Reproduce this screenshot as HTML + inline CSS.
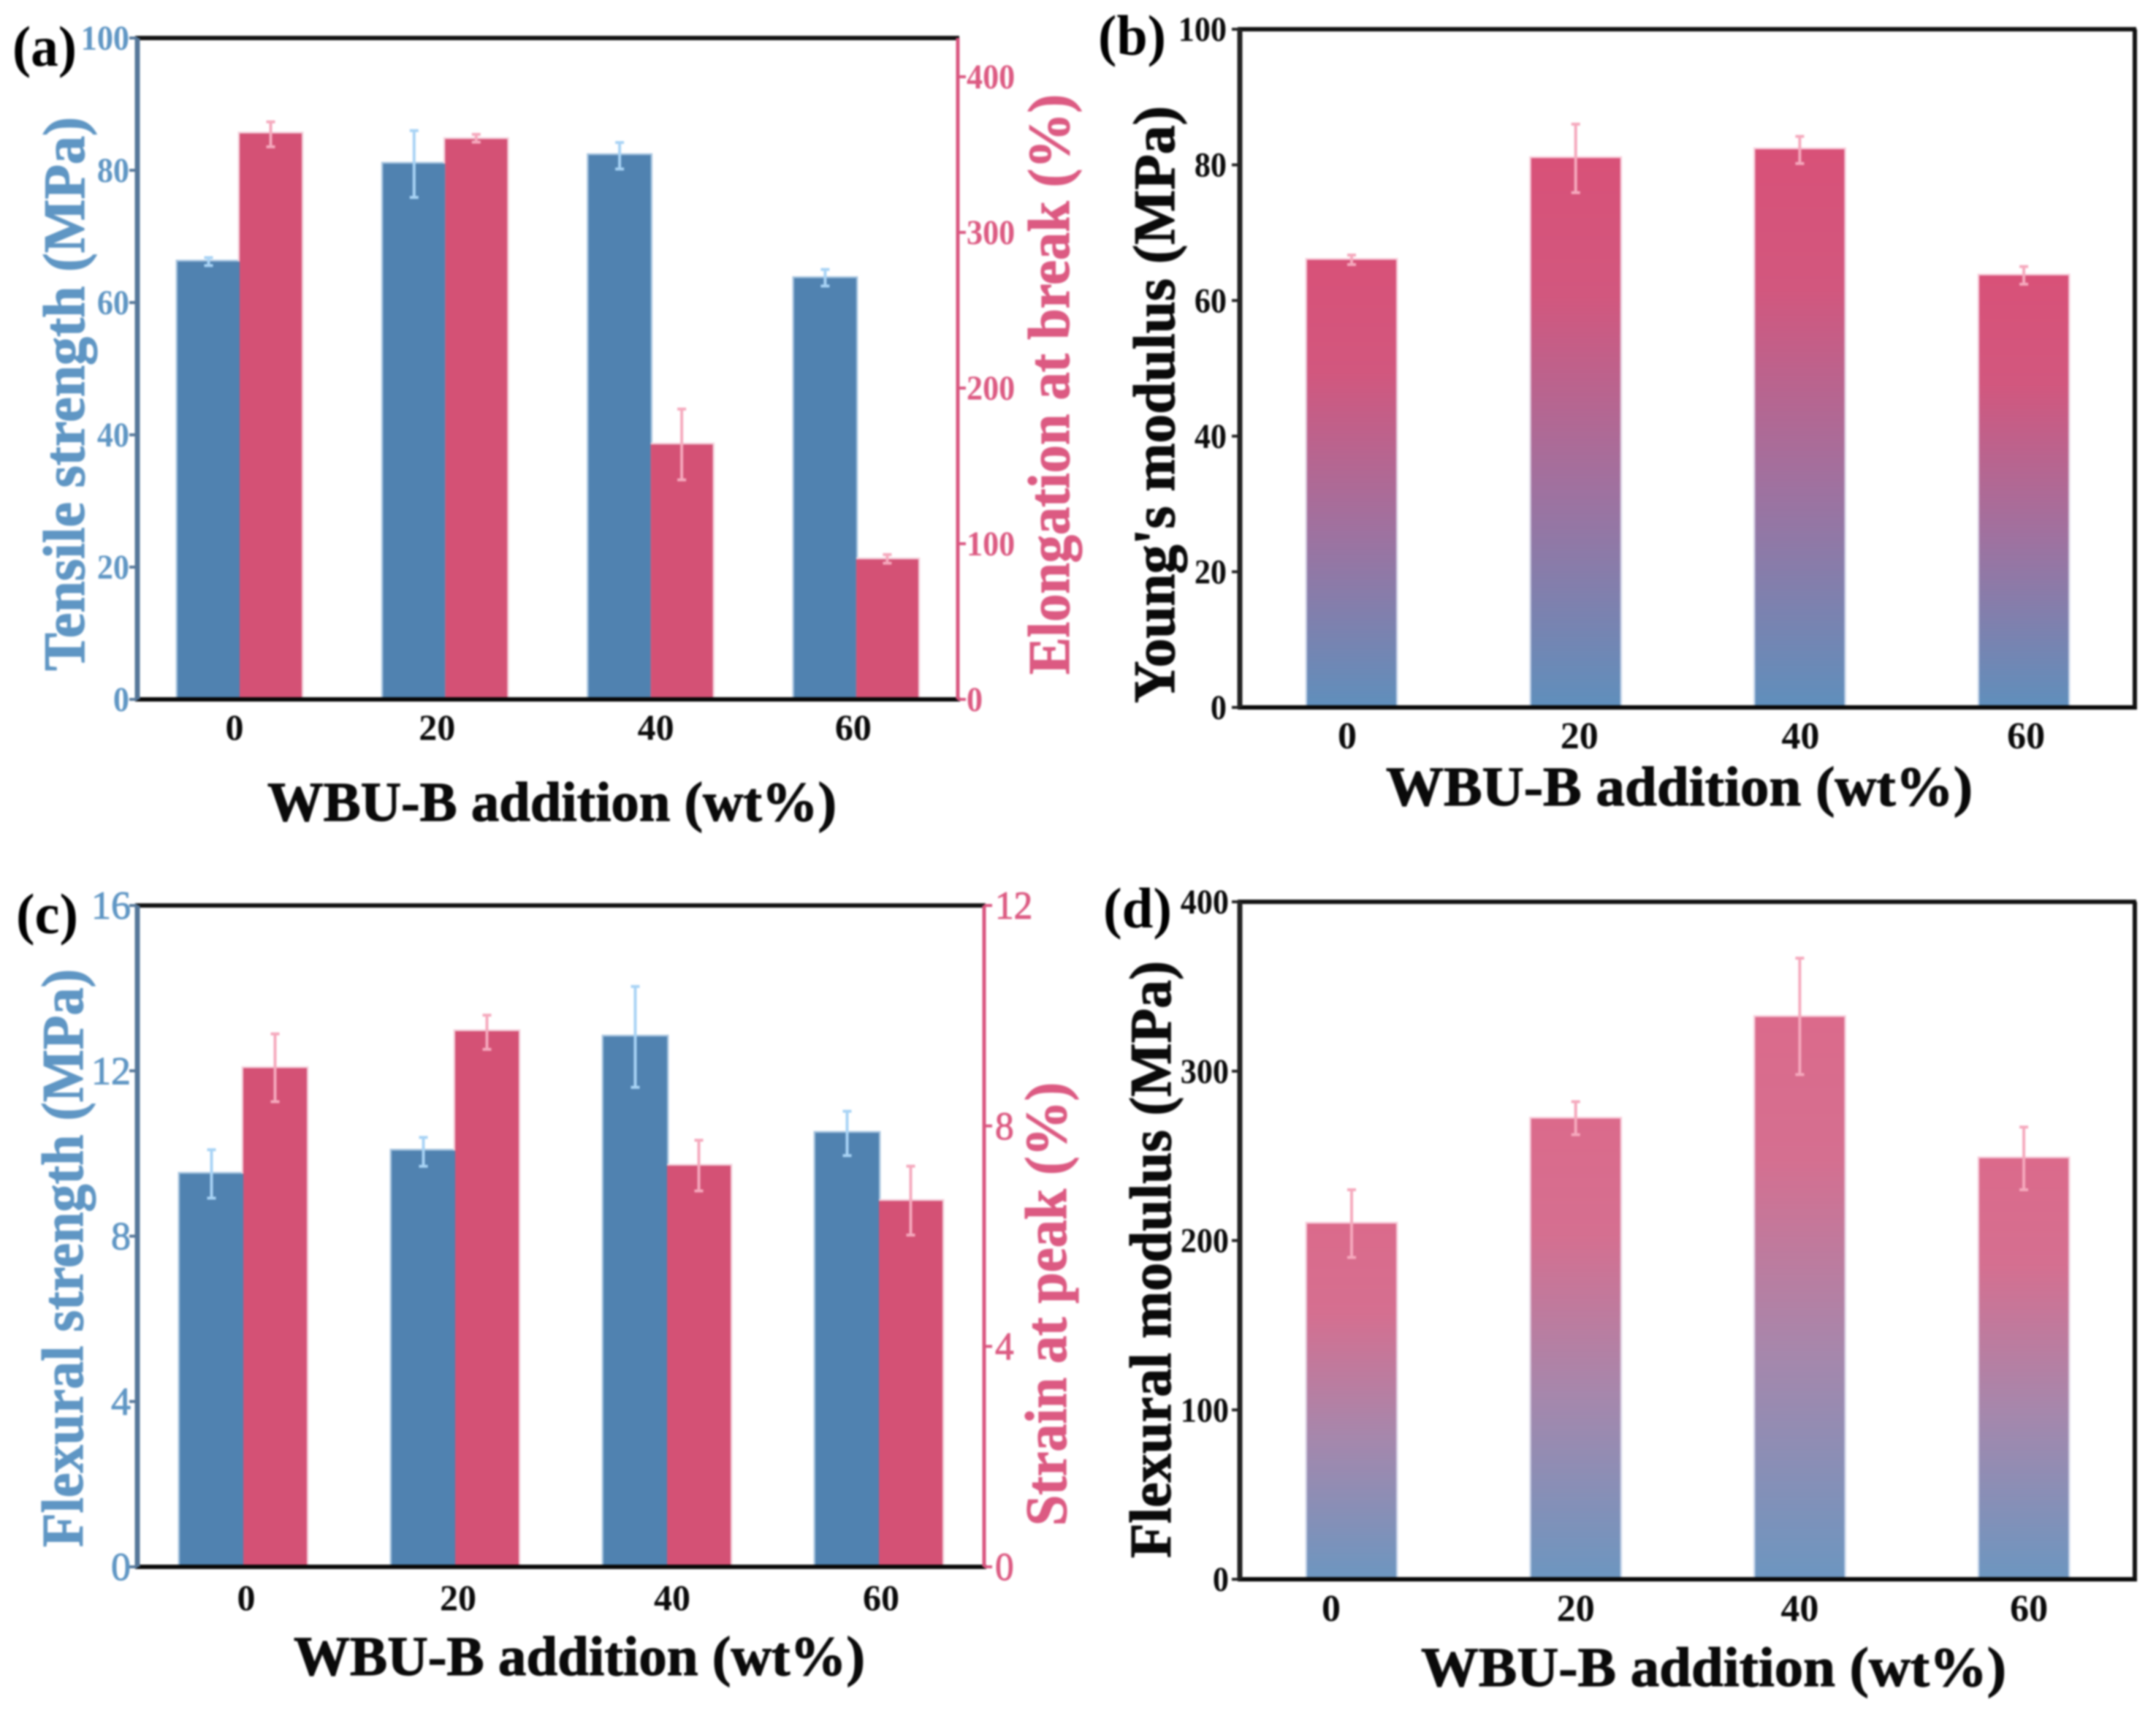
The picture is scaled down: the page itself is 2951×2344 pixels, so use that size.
<!DOCTYPE html>
<html lang="en">
<head>
<meta charset="utf-8">
<title>WBU-B addition mechanical properties</title>
<style>
html,body{margin:0;padding:0;background:#fff;width:2951px;height:2344px;overflow:hidden}
svg{display:block;filter:blur(1.2px)}
text{font-family:"Liberation Serif",serif;font-weight:bold}
</style>
</head>
<body>
<svg id="figure" xmlns="http://www.w3.org/2000/svg" width="2951" height="2344" viewBox="0 0 2951 2344">
  <defs>
    <linearGradient id="gradB" x1="0" y1="0" x2="0" y2="1">
      <stop offset="0" stop-color="#d85178"/>
      <stop offset="0.25" stop-color="#d2577e"/>
      <stop offset="0.6" stop-color="#a0719f"/>
      <stop offset="1" stop-color="#5f8fbc"/>
    </linearGradient>
    <linearGradient id="gradD" x1="0" y1="0" x2="0" y2="1">
      <stop offset="0" stop-color="#db6a8b"/>
      <stop offset="0.25" stop-color="#d56f90"/>
      <stop offset="0.6" stop-color="#a687ac"/>
      <stop offset="1" stop-color="#6c96c0"/>
    </linearGradient>
    <linearGradient id="gradEdge" x1="0" y1="0" x2="0" y2="1">
      <stop offset="0" stop-color="#f8cfdc"/>
      <stop offset="1" stop-color="#c9d9ec"/>
    </linearGradient>
  </defs>
</svg>
<script>
const categories = ['0', '20', '40', '60'];

const tensileStrength = [66.2, 81, 82.3, 63.7];
const tensileHigh = [66.8, 86, 84.2, 65];
const tensileLow = [65.6, 75.9, 80.2, 62.5];
const tensileTicks = [0, 20, 40, 60, 80, 100];

const elongation = [363.6, 360, 163.8, 90];
const elongationHigh = [371, 363, 186.5, 93];
const elongationLow = [355, 358, 141, 87.5];
const elongationTicks = [0, 100, 200, 300, 400];

const youngs = [66, 81, 82.3, 63.7];
const youngsHigh = [66.7, 86, 84.2, 65];
const youngsLow = [65.3, 75.9, 80.2, 62.4];
const youngsTicks = [0, 20, 40, 60, 80, 100];

const flexStrength = [9.51, 10.07, 12.83, 10.5];
const flexStrengthHigh = [10.09, 10.39, 14.04, 11.02];
const flexStrengthLow = [8.92, 9.69, 11.6, 9.95];
const flexStrengthTicks = [0, 4, 8, 12, 16];

const strainPeak = [9.05, 9.72, 7.28, 6.64];
const strainPeakHigh = [9.67, 10.01, 7.74, 7.27];
const strainPeakLow = [8.44, 9.39, 6.82, 6.02];
const strainPeakTicks = [0, 4, 8, 12];

const flexModulus = [210, 272, 332, 248.6];
const flexModulusHigh = [230, 282, 366.7, 267];
const flexModulusLow = [190, 262.5, 298, 230];
const flexModulusTicks = [0, 100, 200, 300, 400];

const svg = document.getElementById('figure');
const NS = 'http://www.w3.org/2000/svg';

function make(tag, parent, attrs, txt) {
  const node = document.createElementNS(NS, tag);
  for (const k in attrs) node.setAttribute(k, attrs[k]);
  if (txt !== undefined) node.textContent = txt;
  parent.appendChild(node);
  return node;
}

function linearY(box, max) {
  return function (v) { return box.b - v / max * (box.b - box.t); };
}

function drawTicks(group, box, axis, side) {
  const y = linearY(box, axis.max);
  const x0 = side === 'left' ? box.l : box.r;
  const dir = side === 'left' ? -1 : 1;
  axis.ticks.forEach(function (v) {
    const tick = make('line', group, {
      x1: x0, x2: x0 + dir * 11, y1: y(v), y2: y(v),
      stroke: axis.spine, 'stroke-width': 4
    });
    
    
    const lx = x0 + dir * axis.labelGap;
    const label = make('text', group, {
      transform: 'translate(' + lx + ',' + (y(v) + axis.size * 0.335) + ') scale(' + axis.sx + ',1)',
      'text-anchor': side === 'left' ? 'end' : 'start',
      'font-size': axis.size,
      fill: axis.color,
      style: axis.light ? 'font-weight:normal;stroke:' + axis.color + ';stroke-width:1' : ''
    }, String(v));
    
    
  });
}

function drawYTitle(group, t, side) {
  const title = make('text', group, {
    transform: 'translate(' + t.x + ',' + ((t.y1 + t.y2) / 2) + ') rotate(-90)',
    'text-anchor': 'middle',
    'font-size': t.size || 80,
    fill: t.color,
    stroke: t.color,
    'stroke-width': 1.2,
    textLength: t.y1 - t.y2,
    lengthAdjust: 'spacingAndGlyphs'
  }, t.text);
  
  
}

function drawBarEdges(group, box, band, s, seriesIndex) {
  const y = linearY(box, s.max);
  s.values.forEach(function (v, i) {
    const x = band.first + i * band.step + seriesIndex * band.width;
    const edge = make('rect', group, {
      x: x - 2.5, y: y(v) - 2.5, width: band.width + 5, height: box.b - y(v) + 2.5,
      fill: s.edge
    });
    
    
  });
}

function drawSeries(group, box, band, s, seriesIndex) {
  const y = linearY(box, s.max);
  s.values.forEach(function (v, i) {
    const x = band.first + i * band.step + seriesIndex * band.width;
    const bar = make('rect', group, {
      x: x, y: y(v), width: band.width, height: box.b - y(v),
      fill: s.fill
    });
    
    
  });
}

function drawErrors(group, box, band, s, seriesIndex) {
  const y = linearY(box, s.max);
  s.values.forEach(function (v, i) {
    const cx = band.first + i * band.step + seriesIndex * band.width + band.width / 2;
    const hi = y(s.high[i]);
    const lo = y(s.low[i]);
    const d = 'M' + (cx - 6) + ' ' + hi + 'H' + (cx + 6) + 'M' + cx + ' ' + hi + 'V' + lo + 'M' + (cx - 6) + ' ' + lo + 'H' + (cx + 6);
    const err = make('path', group, { d: d, fill: 'none', stroke: s.err, 'stroke-width': 4 });
    
    
  });
}

function drawPanel(cfg) {
  const g = make('g', svg, {});
  
  
  const box = cfg.box;

  cfg.series.forEach(function (s, j) { drawBarEdges(g, box, cfg.band, s, j); });
  cfg.series.forEach(function (s, j) { drawSeries(g, box, cfg.band, s, j); });
  cfg.series.forEach(function (s, j) { drawErrors(g, box, cfg.band, s, j); });

  const top = make('line', g, { x1: box.l - 3, x2: box.r + 2, y1: box.t, y2: box.t, stroke: '#111', 'stroke-width': 6 });
  
  
  const bottom = make('line', g, { x1: box.l - 3, x2: box.r + 3, y1: box.b, y2: box.b, stroke: '#080808', 'stroke-width': 6 });
  
  
  const left = make('line', g, { x1: box.l, x2: box.l, y1: box.t, y2: box.b, stroke: cfg.left.spine, 'stroke-width': 7 });
  
  
  const rightCol = cfg.right ? cfg.right.spine : '#111';
  const right = make('line', g, { x1: box.r, x2: box.r, y1: box.t, y2: box.b, stroke: rightCol, 'stroke-width': cfg.right ? 5 : 6 });
  
  

  drawTicks(g, box, cfg.left, 'left');
  if (cfg.right) drawTicks(g, box, cfg.right, 'right');

  categories.forEach(function (c, i) {
    const cx = cfg.band.first + i * cfg.band.step + cfg.series.length * cfg.band.width / 2 + cfg.xNudge[i];
    const lab = make('text', g, {
      x: cx, y: cfg.xTickY, 'text-anchor': 'middle', 'font-size': cfg.xTickSize, fill: '#0a0a0a'
    }, c);
    
    
  });

  const xt = make('text', g, {
    x: cfg.xTitle.x1, y: cfg.xTitle.y, 'font-size': 76, fill: '#0a0a0a',
    stroke: '#0a0a0a', 'stroke-width': 1.2,
    textLength: cfg.xTitle.x2 - cfg.xTitle.x1, lengthAdjust: 'spacingAndGlyphs'
  }, 'WBU-B addition (wt%)');
  
  

  drawYTitle(g, cfg.leftTitle, 'left');
  if (cfg.rightTitle) drawYTitle(g, cfg.rightTitle, 'right');

  const tag = make('text', g, {
    x: cfg.tag.x1, y: cfg.tag.y, 'font-size': 78, fill: '#000',
    textLength: cfg.tag.x2 - cfg.tag.x1, lengthAdjust: 'spacingAndGlyphs'
  }, '(' + cfg.id + ')');
  
  
}

const BLUE = '#5082b0', RED = '#d45175';
const BLUE_TXT = '#5f96c4', RED_TXT = '#dc5a82';
const BLUE_EDGE = '#a9c6e0', RED_EDGE = '#f4d3dd';
const BLUE_ERR = '#a8d3f5', RED_ERR = '#f5a9bd';

drawPanel({
  id: 'a',
  box: { l: 188, r: 1311, t: 52, b: 957 },
  band: { first: 243, step: 281.3, width: 85 },
  left: { max: 100, ticks: tensileTicks, color: BLUE_TXT, spine: '#56789a', size: 48, sx: 0.92, labelGap: 11 },
  right: { max: 424.9, ticks: elongationTicks, color: RED_TXT, spine: '#d9557f', size: 48, sx: 0.92, labelGap: 12 },
  series: [
    { key: 'tensile-strength', values: tensileStrength, high: tensileHigh, low: tensileLow, max: 100, fill: BLUE, edge: BLUE_EDGE, err: BLUE_ERR },
    { key: 'elongation-at-break', values: elongation, high: elongationHigh, low: elongationLow, max: 424.9, fill: RED, edge: RED_EDGE, err: RED_ERR }
  ],
  xNudge: [-7, -11, 7, -4],
  xTickY: 1012, xTickSize: 50,
  xTitle: { x1: 366, x2: 1145, y: 1123 },
  leftTitle: { text: 'Tensile strength (MPa)', x: 115, y1: 918, y2: 160, color: BLUE_TXT },
  rightTitle: { text: 'Elongation at break (%)', x: 1463, y1: 923, y2: 129, color: RED_TXT },
  tag: { x1: 17, x2: 105, y: 90 }
});

drawPanel({
  id: 'b',
  box: { l: 1697, r: 2922, t: 40, b: 968 },
  band: { first: 1789, step: 306.7, width: 122 },
  left: { max: 100, ticks: youngsTicks, color: '#0a0a0a', spine: '#222', size: 48, sx: 0.92, labelGap: 18 },
  series: [
    { key: 'youngs-modulus', values: youngs, high: youngsHigh, low: youngsLow, max: 100, fill: 'url(#gradB)', edge: 'url(#gradEdge)', err: RED_ERR }
  ],
  xNudge: [-6, 5, 1, 3],
  xTickY: 1024, xTickSize: 52,
  xTitle: { x1: 1897, x2: 2700, y: 1102 },
  leftTitle: { text: "Young's modulus (MPa)", x: 1607, y1: 962, y2: 145, color: '#0a0a0a' },
  tag: { x1: 1503, x2: 1596, y: 75 }
});

drawPanel({
  id: 'c',
  box: { l: 188, r: 1347, t: 1239, b: 2144 },
  band: { first: 246, step: 290, width: 87 },
  left: { max: 16, ticks: flexStrengthTicks, color: BLUE_TXT, spine: '#56789a', size: 54, sx: 1, labelGap: 9, light: true },
  right: { max: 12, ticks: strainPeakTicks, color: RED_TXT, spine: '#d9557f', size: 54, sx: 0.95, labelGap: 15, light: true },
  series: [
    { key: 'flexural-strength', values: flexStrength, high: flexStrengthHigh, low: flexStrengthLow, max: 16, fill: BLUE, edge: BLUE_EDGE, err: BLUE_ERR },
    { key: 'strain-at-peak', values: strainPeak, high: strainPeakHigh, low: strainPeakLow, max: 12, fill: RED, edge: RED_EDGE, err: RED_ERR }
  ],
  xNudge: [4, 4, 7, 3],
  xTickY: 2203, xTickSize: 50,
  xTitle: { x1: 402, x2: 1184, y: 2292 },
  leftTitle: { text: 'Flexural strength (MPa)', x: 113, y1: 2117, y2: 1326, color: BLUE_TXT },
  rightTitle: { text: 'Strain at peak (%)', x: 1459, y1: 2088, y2: 1481, color: RED_TXT },
  tag: { x1: 22, x2: 107, y: 1277 }
});

drawPanel({
  id: 'd',
  box: { l: 1697, r: 2922, t: 1234, b: 2161 },
  band: { first: 1789, step: 306.7, width: 122 },
  left: { max: 400, ticks: flexModulusTicks, color: '#0a0a0a', spine: '#222', size: 48, sx: 0.92, labelGap: 15 },
  series: [
    { key: 'flexural-modulus', values: flexModulus, high: flexModulusHigh, low: flexModulusLow, max: 400, fill: 'url(#gradD)', edge: 'url(#gradEdge)', err: RED_ERR }
  ],
  xNudge: [-28, 0, 0, 7],
  xTickY: 2218, xTickSize: 52,
  xTitle: { x1: 1945, x2: 2746, y: 2307 },
  leftTitle: { text: 'Flexural modulus (MPa)', x: 1602, y1: 2132, y2: 1315, color: '#0a0a0a' },
  tag: { x1: 1510, x2: 1604, y: 1269 }
});
</script>
</body>
</html>
